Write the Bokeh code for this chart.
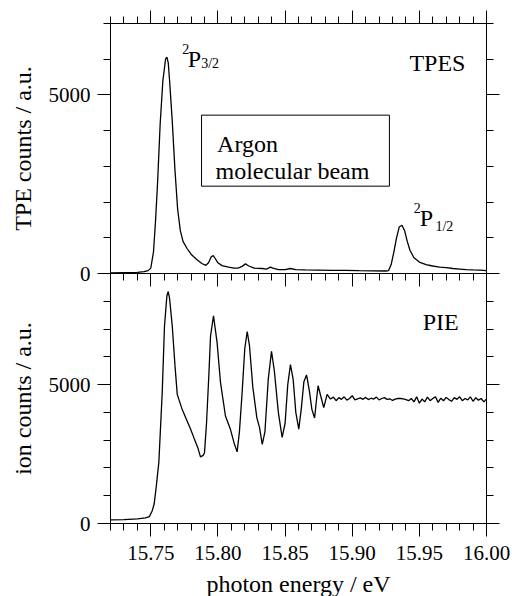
from bokeh.plotting import figure
from bokeh.layouts import column
from bokeh.models import (Range1d, LinearAxis, FixedTicker, PrintfTickFormatter,
                          Label, BoxAnnotation)
from bokeh.embed import file_html
from bokeh.resources import INLINE

FONT = "Liberation Serif"

# ---------------- data ----------------
x_major = [15.75, 15.80, 15.85, 15.90, 15.95, 16.00]
x_minor = [15.72, 15.73, 15.74, 15.76, 15.77, 15.78, 15.79, 15.81, 15.82, 15.83,
           15.84, 15.86, 15.87, 15.88, 15.89, 15.91, 15.92, 15.93, 15.94, 15.96,
           15.97, 15.98, 15.99]
top_y_major = [0, 5000]
top_y_minor = [1000, 2000, 3000, 4000, 6000, 7000]
bot_y_major = [0, 5000]
bot_y_minor = [1000, 2000, 3000, 4000, 6000, 7000, 8000, 9000]

tpes_x = [15.720, 15.730, 15.740, 15.745, 15.748, 15.750, 15.752, 15.7535, 15.755,
          15.757, 15.759, 15.761, 15.762, 15.763, 15.764, 15.766, 15.768, 15.770,
          15.772, 15.774, 15.777, 15.780, 15.784, 15.788, 15.791, 15.793, 15.795,
          15.7965, 15.798, 15.800, 15.803, 15.808, 15.812, 15.815, 15.818, 15.8205,
          15.823, 15.827, 15.833, 15.836, 15.839, 15.841, 15.845, 15.850, 15.854,
          15.858, 15.865, 15.875, 15.885, 15.895, 15.905, 15.915, 15.925, 15.927,
          15.929, 15.931, 15.933, 15.935, 15.937, 15.939, 15.941, 15.943, 15.946,
          15.950, 15.955, 15.960, 15.965, 15.970, 15.975, 15.980, 15.985, 15.990,
          15.995, 16.000]
tpes_y = [20, 25, 30, 50, 80, 150, 600, 1450, 2500,
          4200, 5400, 6000, 6060, 5900, 5400, 4260, 2900, 1800,
          1200, 900, 700, 540, 400, 280, 230, 300, 470,
          500, 420, 300, 220, 180, 150, 150, 200, 270,
          210, 150, 140, 120, 180, 150, 110, 110, 140,
          110, 100, 95, 85, 90, 80, 75, 70, 80,
          250, 600, 1000, 1300, 1350, 1200, 900, 650, 440,
          320, 250, 210, 180, 165, 140, 125, 110, 100,
          95, 80]

pie_x = [15.720, 15.730, 15.740, 15.746, 15.749, 15.751, 15.7525, 15.754, 15.756,
         15.7585, 15.7602, 15.762, 15.763, 15.764, 15.766, 15.768, 15.7697, 15.7734,
         15.7765, 15.7796, 15.782, 15.785, 15.787, 15.789, 15.790, 15.7915, 15.7932,
         15.7945, 15.7967, 15.7994, 15.8019, 15.8056, 15.8093, 15.812, 15.8143, 15.816,
         15.818, 15.820, 15.8218, 15.8235, 15.826, 15.829, 15.831, 15.833, 15.835,
         15.8375, 15.8399, 15.842, 15.845, 15.8478, 15.850, 15.852, 15.854, 15.856,
         15.858, 15.8602, 15.862, 15.864, 15.866, 15.868, 15.870, 15.872, 15.8735,
         15.8746, 15.8765, 15.8788, 15.8813, 15.8838,
         15.886, 15.888, 15.890, 15.892, 15.894, 15.896, 15.898, 15.900, 15.902,
         15.904, 15.906, 15.908, 15.910, 15.912, 15.914, 15.916, 15.918, 15.920,
         15.922, 15.924, 15.926, 15.928, 15.930, 15.932, 15.934, 15.936, 15.938,
         15.940, 15.942, 15.944, 15.946, 15.948, 15.950, 15.952, 15.954, 15.956,
         15.958, 15.960, 15.962, 15.964, 15.966, 15.968, 15.970, 15.972, 15.974,
         15.976, 15.978, 15.980, 15.982, 15.984, 15.986, 15.988, 15.990, 15.992,
         15.994, 15.996, 15.998, 16.000]
pie_y = [130, 140, 170, 200, 250, 450, 700, 1300, 2200,
         4700, 7100, 8200, 8350, 8100, 7100, 5700, 4650, 4100,
         3750, 3400, 3100, 2730, 2400, 2450, 2550, 3600, 5300,
         6750, 7480, 6500, 5080, 3870, 3390, 2900, 2580, 3300,
         4700, 6300, 6910, 6400, 4900, 3800, 3450, 2850, 3300,
         5200, 6200, 5500, 4000, 3100, 3600, 5000, 5720, 5200,
         4000, 3400, 4100, 5100, 5350, 4800, 4100, 3800, 4500,
         4960, 4600, 4170, 4650, 4480,
         4550, 4420, 4530, 4470, 4560, 4440, 4500, 4600, 4450,
         4490, 4520, 4470, 4540, 4460, 4510, 4480, 4550, 4450,
         4500, 4530, 4470, 4490, 4430, 4480, 4500, 4500, 4490,
         4460, 4420, 4500, 4380, 4560, 4330, 4480, 4380, 4550,
         4420, 4500, 4560, 4360, 4510, 4420, 4540, 4460, 4400,
         4530, 4470, 4560, 4420, 4500, 4450, 4560, 4400, 4530,
         4440, 4500, 4380, 4480]

# ---------------- helpers ----------------
def style(ax, major, minor, labels=True, standoff=7):
    ax.ticker = FixedTicker(ticks=major, minor_ticks=minor)
    ax.axis_line_color = "black"
    ax.major_tick_line_color = "black"
    ax.minor_tick_line_color = "black"
    ax.major_tick_in, ax.major_tick_out = 0, 13
    ax.minor_tick_in, ax.minor_tick_out = 0, 7
    ax.major_label_text_font = FONT
    if labels:
        ax.major_label_text_color = "black"
        ax.major_label_text_font_size = "21px"
        ax.major_label_standoff = standoff
    else:
        ax.major_label_text_color = None
        ax.major_label_text_font_size = "1px"
        ax.major_label_standoff = 0
    ax.axis_label_text_font = FONT
    ax.axis_label_text_font_style = "normal"
    ax.axis_label_text_font_size = "24px"
    ax.axis_label_text_color = "black"


x_lo, x_hi = 15.72, 16.00
OVERLAP = 14

# ---------------- top panel (TPES) ----------------
p1 = figure(frame_width=376, frame_height=250,
            x_range=Range1d(x_lo, x_hi), y_range=Range1d(0, 7000),
            x_axis_location="above", output_backend="svg", toolbar_location=None,
            min_border_left=110, min_border_right=24, min_border_top=23,
            min_border_bottom=OVERLAP)
p1.grid.visible = False
p1.outline_line_color = "black"
style(p1.xaxis[0], x_major, x_minor, labels=False)
style(p1.yaxis[0], top_y_major, top_y_minor)
p1.yaxis[0].axis_label = "TPE counts / a.u."
p1.yaxis[0].axis_label_standoff = 10
r1 = LinearAxis()
style(r1, top_y_major, top_y_minor, labels=False)
p1.add_layout(r1, "right")
b1 = LinearAxis()
style(b1, x_major, x_minor, labels=False)
p1.add_layout(b1, "below")

p1.line(tpes_x, tpes_y, line_color="black", line_width=1.3)


def lab(fig, x, y, text, size, align="left"):
    fig.add_layout(Label(x=x, y=y, text=text, text_font=FONT, text_font_size=size,
                         text_align=align, text_baseline="alphabetic",
                         text_color="black"))


lab(p1, 15.9843, 5899, "TPES", "24px", "right")
p1.add_layout(BoxAnnotation(left=15.7878, right=15.9277, bottom=2445, top=4434,
                            fill_color=None, line_color="black", line_alpha=1.0,
                            line_width=1))
lab(p1, 15.7994, 3622, "Argon", "24px")
lab(p1, 15.7982, 2866, "molecular beam", "24px")
# 2P3/2
lab(p1, 15.7734, 6275, "2", "14px")
lab(p1, 15.7776, 5994, "P", "24px")
lab(p1, 15.7875, 5877, "3/2", "14px")
# 2P1/2
lab(p1, 15.9458, 1838, "2", "14px")
lab(p1, 15.9503, 1557, "P", "24px")
lab(p1, 15.9620, 1311, "1/2", "14px")

# ---------------- bottom panel (PIE) ----------------
p2 = figure(frame_width=376, frame_height=250,
            x_range=p1.x_range, y_range=Range1d(0, 9000),
            output_backend="svg", toolbar_location=None,
            min_border_left=110, min_border_right=24, min_border_top=0,
            min_border_bottom=72)
p2.margin = (-OVERLAP, 0, 0, 0)
p2.background_fill_color = None
p2.border_fill_color = None
p2.grid.visible = False
p2.outline_line_color = "black"
style(p2.xaxis[0], x_major, x_minor, standoff=9)
p2.xaxis[0].formatter = PrintfTickFormatter(format="%.2f")
p2.xaxis[0].axis_label = "photon energy / eV"
p2.xaxis[0].axis_label_standoff = 8
style(p2.yaxis[0], bot_y_major, bot_y_minor)
p2.yaxis[0].axis_label = "ion counts / a.u."
p2.yaxis[0].axis_label_standoff = 10
r2 = LinearAxis()
style(r2, bot_y_major, bot_y_minor, labels=False)
p2.add_layout(r2, "right")

p2.line(pie_x, pie_y, line_color="black", line_width=1.3)
lab(p2, 15.9793, 7242, "PIE", "24px", "right")

layout = column(p1, p2)
open("out.html", "w").write(file_html(layout, INLINE))
